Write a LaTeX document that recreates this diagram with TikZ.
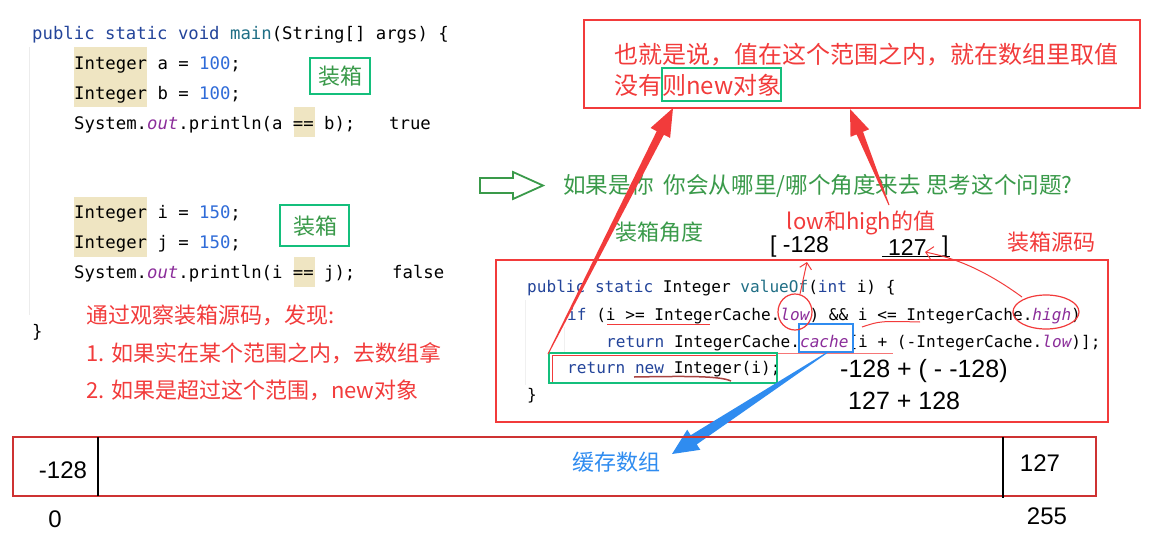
\documentclass[tikz,border=0pt]{standalone}
\usepackage{fontspec}
\usetikzlibrary{calc,arrows.meta}
\setmainfont{Liberation Sans}
\newfontfamily\cjk{Noto Sans CJK SC}
\newfontfamily\codefont{DejaVu Sans Mono}
\definecolor{kw}{HTML}{23449A}
\definecolor{fn}{HTML}{1F6E85}
\definecolor{num}{HTML}{2F6BD8}
\definecolor{pur}{HTML}{8B2D9A}
\definecolor{hl}{HTML}{EFE5C2}
\definecolor{rd}{HTML}{F23B3B}
\definecolor{grnbox}{HTML}{14BF7C}
\definecolor{grntxt}{HTML}{3A9A4A}
\definecolor{blu}{HTML}{2F8CF0}
\definecolor{ulred}{HTML}{A8423F}
\newcommand\taperarrow[7]{%
  \coordinate (hb) at ($(#3)!#7!(#2)$);
  \fill[#1] ($(#2)!#4!90:(#3)$) -- ($(hb)!#5!90:(#3)$) -- ($(hb)!#6!90:(#3)$) -- (#3)
    -- ($(hb)!#6!-90:(#3)$) -- ($(hb)!#5!-90:(#3)$) -- ($(#2)!#4!-90:(#3)$) -- cycle;}
\begin{document}
\begin{tikzpicture}[x=1pt,y=-1pt,
  code/.style={anchor=base west, inner sep=0pt, font=\codefont\fontsize{17.3}{20}\selectfont},
  lcode/.style={anchor=base west, inner sep=0pt, font=\codefont\fontsize{16.1}{19}\selectfont},
  zh/.style={inner sep=0pt, font=\cjk\fontsize{22}{26}\selectfont},
  zhbig/.style={inner sep=0pt, font=\cjk\fontsize{24}{28}\selectfont},
  num/.style={inner sep=0pt, font=\fontsize{24}{28}\selectfont},
  hand/.style={inner sep=0pt, anchor=west, font=\fontsize{25}{28}\selectfont},
  gbox/.style={draw=grnbox, line width=1.8pt},
  rbox/.style={draw=rd, line width=1.6pt}]
\useasboundingbox (0,0) rectangle (1168,549);
\fill[white] (0,0) rectangle (1168,549);

% ---------- upper code ----------
\draw[gray!15, line width=1pt] (29,47) -- (29,315);
\fill[hl] (74,47) rectangle (147,107);
\fill[hl] (294,107) rectangle (315,137);
\fill[hl] (74,197) rectangle (147,257);
\fill[hl] (294,257) rectangle (315,287);
\node[code] (c1) at (32,39) {\textcolor{kw}{public static void} \textcolor{fn}{main}(String[] args) \{};
\node[code] (c2) at (74,69) {Integer a = \textcolor{num}{100};};
\node[code] (c3) at (74,99) {Integer b = \textcolor{num}{100};};
\node[code] (c4) at (74,129) {System.\textcolor{pur}{\itshape out}.println(a == b);};
\node[code] (t1) at (389,129) {true};
\node[code] (c5) at (74,218) {Integer i = \textcolor{num}{150};};
\node[code] (c6) at (74,248) {Integer j = \textcolor{num}{150};};
\node[code] (c7) at (74,278) {System.\textcolor{pur}{\itshape out}.println(i == j);};
\node[code] (f1) at (392,278) {false};
\node[code] (c8) at (32,337) {\}};

\draw[gbox] (310,58) rectangle (370,94);
\node[zh, text=grntxt] (zx1) at (340,76) {装箱};
\draw[gbox] (280,205) rectangle (349,246);
\node[zh, text=grntxt] (zx2) at (315,226) {装箱};

\node[zh, text=rd, anchor=west] (n1) at (86,315) {通过观察装箱源码，发现:};
\node[zh, text=rd, anchor=west] (n2) at (86,353) {1. 如果实在某个范围之内，去数组拿};
\node[zh, text=rd, anchor=west] (n3) at (86,390) {2. 如果是超过这个范围，new对象};

% ---------- top box ----------
\draw[rbox] (584,20) rectangle (1140,108);
\node[zhbig, text=rd, anchor=west] (b1) at (614,55) {也就是说，值在这个范围之内，就在数组里取值};
\node[zhbig, text=rd, anchor=west] (b2) at (614,85) {没有则new对象};
\draw[gbox] (662,68) rectangle (781,101);

% ---------- green hollow arrow + question ----------
\draw[grntxt, line width=1.8pt, line join=miter] (480,178) -- (513,178) -- (513,172) -- (543,185.5)
  -- (513,199) -- (513,193) -- (480,193) -- cycle;
\node[inner sep=0pt, font=\cjk\fontsize{22.6}{26}\selectfont, text=grntxt, anchor=west] (q) at (563,186) {如果是你\ \ 你会从哪里/哪个角度来去 思考这个问题?};
\node[zh, text=grntxt] (zxjd) at (659,232) {装箱角度};
\node[zh, text=rd] (lh) at (861,223) {low和high的值};
\node[zh, text=rd] (zxym) at (1051,242) {装箱源码};
\node[inner sep=0pt, font=\fontsize{23}{27}\selectfont, anchor=west] (rl) at (770,247) {[ -128};
\node[inner sep=0pt, font=\fontsize{23}{27}\selectfont, anchor=west] (rr) at (888,247) {127};
\node[inner sep=0pt, font=\fontsize{23}{27}\selectfont, anchor=west] (rb) at (942,247) {]};
\draw[line width=1pt] (882,256) -- (950,256);

% ---------- lower code box ----------
\draw[rbox] (496,260) rectangle (1108,422);
\draw[gray!12, line width=1pt] (525,300) -- (525,385);
\draw[gray!12, line width=1pt] (564,327) -- (564,354);
\node[lcode] (d1) at (527,292) {\textcolor{kw}{public static} Integer \textcolor{fn}{valueOf}(\textcolor{kw}{int} i) \{};
\node[lcode] (d2) at (567,320) {\textcolor{kw}{if} (i >= IntegerCache.\textcolor{pur}{\itshape low}) \&\& i <= IntegerCache.\textcolor{pur}{\itshape high})};
\node[lcode] (d3) at (606,347) {\textcolor{kw}{return} IntegerCache.\textcolor{pur}{\itshape cache}[i + (-IntegerCache.\textcolor{pur}{\itshape low})];};
\node[lcode] (d4) at (567,373) {\textcolor{kw}{return new} Integer(i);};
\node[lcode] (d5) at (527,400) {\}};

\draw[rd, line width=1pt] (607,324) -- (710,324);
\draw[rd, line width=1pt] (862,327) .. controls (880,321) .. (920,322);
\draw[rd!70, line width=0.8pt] (777,353) -- (893,353);
\draw[ulred, line width=1.5pt] (634,377) .. controls (690,376) and (720,376) .. (731,381);
\draw[rd, line width=1pt] (552,355) rectangle (776,382);
\draw[gbox] (549,353) rectangle (777,383);
\draw[draw=blu, line width=1.6pt] (799,324) rectangle (853,352);
\draw[rd, line width=1.2pt] (795,312) ellipse [x radius=17, y radius=18];
\draw[rd, line width=1.2pt] (1046,312) ellipse [x radius=33, y radius=17];

\node[hand] (h1) at (840,371) {-128 + ( -\ -128)};
\node[hand] (h2) at (848,401) {127 + 128};

% small red pointers
\coordinate (lowtop) at (800,294);
\coordinate (lowtip) at (807,262);
\draw[rd, line width=1pt, -{Straight Barb[length=6pt]}] (lowtop) -- (lowtip);
\coordinate (hightop) at (1022,297);
\coordinate (hightip) at (925,252);
\draw[rd, line width=1pt, -{Straight Barb[length=7pt]}] (hightop) .. controls (985,270) and (955,258) .. (hightip);

% ---------- big tapered arrows ----------
\coordinate (la0) at (548,354);
\coordinate (la1) at (673,108);
\taperarrow{rd}{la0}{la1}{0.5pt}{4pt}{11pt}{28pt}
\coordinate (ra0) at (889,205);
\coordinate (ra1) at (850,109);
\taperarrow{rd}{ra0}{ra1}{0.5pt}{3.5pt}{10pt}{26pt}
\coordinate (ba0) at (828,352);
\coordinate (ba1) at (672,454);
\taperarrow{blu}{ba0}{ba1}{0.5pt}{5.5pt}{12pt}{26pt}

% ---------- cache array ----------
\draw[draw=rd!85!black, line width=2.5pt] (13,437) rectangle (1096,496);
\draw[line width=1.5pt] (98,437) -- (98,496);
\draw[line width=1.5pt] (1003,437) -- (1003,498);
\node[num] (m128) at (63,470) {-128};
\node[num] (p127) at (1040,463) {127};
\node[zh, text=blu] (hc) at (616,462) {缓存数组};
\node[num] (z0) at (55,519) {0};
\node[num] (z255) at (1047,516) {255};
\end{tikzpicture}
\end{document}
